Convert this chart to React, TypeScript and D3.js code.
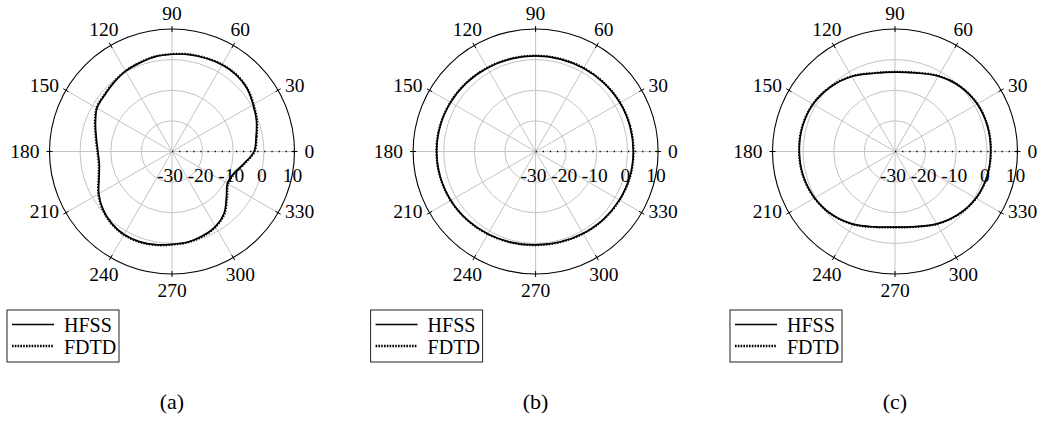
import React from 'react';
import * as d3 from 'd3';

// ---------- data ----------
const angleTicks = [0, 30, 60, 90, 120, 150, 180, 210, 240, 270, 300, 330];
const radialTicks = [-30, -20, -10, 0, 10];
const gridRings = [-20, -10, 0];
const seriesNames = ['HFSS', 'FDTD'];
const panelLabels = ['(a)', '(b)', '(c)'];

const anglesA = [0, 10, 20, 30, 40, 50, 60, 70, 80, 90, 100, 110, 120, 130, 140, 150, 160, 170,
  180, 190, 200, 210, 220, 230, 240, 250, 260, 270, 280, 290, 300, 310, 320, 330, 340, 350];
const aHFSS = [-3.2, -2.1, -0.65, 0.6, 2.0, 2.65, 2.7, 2.4, 2.15, 1.75, 1.45, 0.8, 0.3, -0.55, -1.3, -1.7, -3.4, -4.9,
  -5.8, -5.9, -4.65, -2.4, -0.6, 0.65, 1.3, 1.3, 0.9, 0.3, 0.0, -0.7, -1.7, -3.55, -6.8, -9.1, -8.65, -6.3];
const aFDTD = [-3.0, -1.9, -0.45, 0.8, 2.1, 2.75, 2.8, 2.5, 2.25, 1.85, 1.55, 0.9, 0.4, -0.4, -1.15, -1.55, -3.2, -4.7,
  -5.6, -5.7, -4.45, -2.2, -0.4, 0.8, 1.45, 1.45, 1.05, 0.45, 0.15, -0.5, -1.5, -3.35, -6.5, -8.8, -8.4, -6.1];

const angles15 = [0, 15, 30, 45, 60, 75, 90, 105, 120, 135, 150, 165,
  180, 195, 210, 225, 240, 255, 270, 285, 300, 315, 330, 345];
const bHFSS = [1.9, 1.9, 1.8, 1.6, 1.4, 1.25, 1.2, 1.3, 1.5, 1.8, 2.05, 2.25,
  2.3, 2.2, 1.95, 1.55, 1.1, 0.7, 0.5, 0.6, 0.9, 1.3, 1.6, 1.85];
const bFDTD = [2.0, 2.0, 1.9, 1.7, 1.5, 1.35, 1.3, 1.4, 1.6, 1.9, 2.15, 2.35,
  2.4, 2.3, 2.05, 1.65, 1.2, 0.8, 0.6, 0.7, 1.0, 1.4, 1.7, 1.95];

const cHFSS = [1.25, 1.3, 1.0, 0.0, -1.6, -3.45, -4.1, -3.55, -1.7, -0.2, 0.9, 1.3,
  1.25, 1.0, 0.3, -0.9, -2.6, -4.5, -5.3, -4.6, -2.7, -0.9, 0.5, 1.1];
const cFDTD = [1.35, 1.4, 1.1, 0.1, -1.5, -3.35, -4.0, -3.45, -1.6, -0.1, 1.0, 1.4,
  1.35, 1.1, 0.4, -0.8, -2.5, -4.4, -5.2, -4.5, -2.6, -0.8, 0.6, 1.2];

// ---------- layout ----------
const W = 1041, H = 429;
const R = 122.5;
const CY = 151.5;
const FONT = '"Liberation Serif", "Times New Roman", serif';

const panels = [
  { cx: 172, angles: anglesA, hfss: aHFSS, fdtd: aFDTD, label: panelLabels[0] },
  { cx: 535.6, angles: angles15, hfss: bHFSS, fdtd: bFDTD, label: panelLabels[1] },
  { cx: 895, angles: angles15, hfss: cHFSS, fdtd: cFDTD, label: panelLabels[2] },
];

const rScale = d3.scaleLinear().domain([-30, 10]).range([0, R]);
const toRad = (deg: number) => (deg * Math.PI) / 180;

const radialLine = d3
  .lineRadial<[number, number]>()
  .angle((d) => toRad(90 - d[0]))
  .radius((d) => rScale(d[1]))
  .curve(d3.curveCatmullRomClosed.alpha(0.5));

function angleLabelPos(a: number) {
  const c = Math.cos(toRad(a));
  const s = Math.sin(toRad(a));
  if (a === 0 || a === 180) {
    return { x: (R + 10) * c, y: 0, anchor: a === 0 ? 'start' : 'end' };
  }
  if (a === 90 || a === 270) {
    return { x: 0, y: -(R + 16) * s, anchor: 'middle' };
  }
  if (a === 60 || a === 120 || a === 240 || a === 300) {
    return { x: (R + 14) * c, y: s > 0 ? -122 : 123, anchor: 'middle' };
  }
  // 30, 150, 210, 330
  return { x: (R + 8) * c, y: s > 0 ? -66 : 60, anchor: c > 0 ? 'start' : 'end' };
}

function Panel({ p }: { p: typeof panels[number] }) {
  const hfssPts = p.angles.map((a, i) => [a, p.hfss[i]] as [number, number]);
  const fdtdPts = p.angles.map((a, i) => [a, p.fdtd[i]] as [number, number]);
  const lx = p.cx - 165;
  const ly = 310;
  return (
    <g>
      <g transform={`translate(${p.cx},${CY})`}>
        {gridRings.map((v) => (
          <circle key={v} r={rScale(v)} fill="none" stroke="#c4c4c4" strokeWidth={1} />
        ))}
        {angleTicks.map((a) => (
          <line
            key={a}
            x1={0}
            y1={0}
            x2={R * Math.cos(toRad(a))}
            y2={-R * Math.sin(toRad(a))}
            stroke="#c4c4c4"
            strokeWidth={1}
          />
        ))}
        <line x1={0} y1={0} x2={R} y2={0} stroke="#000" strokeWidth={1.3} strokeDasharray="1.3 5.8" />
        <circle r={R} fill="none" stroke="#000" strokeWidth={1.1} />
        {angleTicks.map((a) => (
          <line
            key={'t' + a}
            x1={(R - 3) * Math.cos(toRad(a))}
            y1={-(R - 3) * Math.sin(toRad(a))}
            x2={(R + 3) * Math.cos(toRad(a))}
            y2={-(R + 3) * Math.sin(toRad(a))}
            stroke="#000"
            strokeWidth={1}
          />
        ))}
        <path d={radialLine(hfssPts) || ''} fill="none" stroke="#000" strokeWidth={1.7} />
        <path
          d={radialLine(fdtdPts) || ''}
          fill="none"
          stroke="#000"
          strokeWidth={2.1}
          strokeDasharray="1.3 1.5"
        />
        {angleTicks.map((a) => {
          const pos = angleLabelPos(a);
          return (
            <text
              key={'l' + a}
              x={pos.x}
              y={pos.y}
              textAnchor={pos.anchor as any}
              dominantBaseline="central"
              fontFamily={FONT}
              fontSize={19.5}
              fill="#000"
            >
              {a}
            </text>
          );
        })}
        {radialTicks.map((v) => (
          <text
            key={'r' + v}
            x={rScale(v) - 2}
            y={24}
            textAnchor="middle"
            dominantBaseline="central"
            fontFamily={FONT}
            fontSize={19.5}
            fill="#000"
          >
            {v}
          </text>
        ))}
      </g>
      <g transform={`translate(${lx},${ly})`}>
        <rect x={0} y={0} width={112} height={52} fill="#fff" stroke="#222" strokeWidth={1} />
        <line x1={5} y1={14.5} x2={47} y2={14.5} stroke="#000" strokeWidth={1.5} />
        <text x={57} y={15} dominantBaseline="central" fontFamily={FONT} fontSize={20} fill="#000">
          {seriesNames[0]}
        </text>
        <line x1={5} y1={36} x2={47} y2={36} stroke="#000" strokeWidth={2.4} strokeDasharray="1.6 1.2" />
        <text x={57} y={36.5} dominantBaseline="central" fontFamily={FONT} fontSize={20} fill="#000">
          {seriesNames[1]}
        </text>
      </g>
      <text
        x={p.cx}
        y={401}
        textAnchor="middle"
        dominantBaseline="central"
        fontFamily={FONT}
        fontSize={22}
        fill="#000"
      >
        {p.label}
      </text>
    </g>
  );
}

export default function App() {
  return (
    <svg
      width={W}
      height={H}
      viewBox={`0 0 ${W} ${H}`}
      style={{ position: 'absolute', left: 0, top: 0, background: '#fff' }}
    >
      <rect width={W} height={H} fill="#fff" />
      {panels.map((p, i) => (
        <Panel key={i} p={p} />
      ))}
    </svg>
  );
}
